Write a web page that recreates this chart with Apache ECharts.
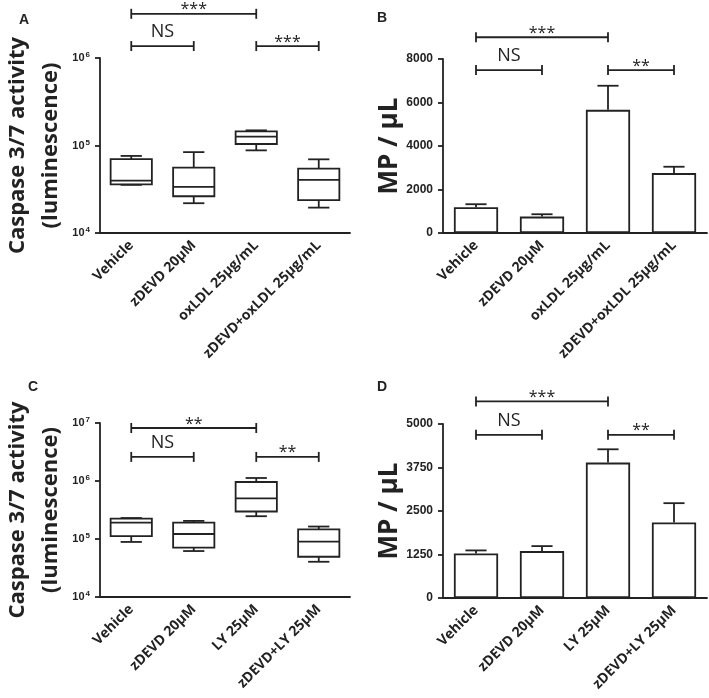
<!DOCTYPE html>
<html>
<head>
<meta charset="utf-8">
<script src="https://cdn.jsdelivr.net/npm/echarts@6/dist/echarts.min.js"></script>
<style>html,body{margin:0;padding:0;background:#fff;}#c{width:709px;height:698px;}</style>
</head>
<body>
<div id="c"></div>
<script>
// ---------- data ----------
const catsTop = ['Vehicle', 'zDEVD 20µM', 'oxLDL 25µg/mL', 'zDEVD+oxLDL 25µg/mL'];
const catsBottom = ['Vehicle', 'zDEVD 20µM', 'LY 25µM', 'zDEVD+LY 25µM'];

// box plots: [min, q1, median, q3, max]
const boxA = [
  [35500, 36000, 39600, 70000, 76000],
  [21900, 26300, 33600, 56000, 84000],
  [88000, 104000, 126000, 145000, 149000],
  [19500, 23800, 40400, 54300, 69500]
];
const boxC = [
  [89000, 112000, 192000, 225000, 230000],
  [62000, 70800, 122000, 192000, 205000],
  [247000, 298000, 500000, 961000, 1127000],
  [40500, 49400, 90000, 147000, 164000]
];

// bar charts: mean and upper error (SEM)
const meanB = [1185, 754, 5662, 2754];
const semB = [138, 108, 1108, 292];
const meanD = [1281, 1348, 3891, 2170];
const semD = [86, 143, 382, 555];

// significance brackets: [fromIndex, toIndex, yValue, label]
const sigA = [[0, 2, 3.2e6, '***'], [0, 1, 1.37e6, 'NS'], [2, 3, 1.37e6, '***']];
const sigB = [[0, 2, 9000, '***'], [0, 1, 7490, 'NS'], [2, 3, 7490, '**']];
const sigC = [[0, 2, 8.2e6, '**'], [0, 1, 2.6e6, 'NS'], [2, 3, 2.6e6, '**']];
const sigD = [[0, 2, 5650, '***'], [0, 1, 4690, 'NS'], [2, 3, 4690, '**']];

const ticksB = {min: 0, max: 8000, interval: 2000};
const ticksD = {min: 0, max: 5000, interval: 1250};

// ---------- styles ----------
const INK = '#222';
const LW = 1.8;
const grids = [
  {left: 87, top: 58, width: 263, height: 175},
  {left: 443, top: 59, width: 264, height: 174},
  {left: 87, top: 423, width: 263, height: 174},
  {left: 443, top: 424, width: 264, height: 174}
];

function bandOf(api, v) {
  return api.coord([1, v])[0] - api.coord([0, v])[0];
}

function boxRender(params, api) {
  const i = api.value(0);
  const mn = api.value(1), q1 = api.value(2), md = api.value(3), q3 = api.value(4), mx = api.value(5);
  const pMin = api.coord([i, mn]), pQ1 = api.coord([i, q1]), pMd = api.coord([i, md]);
  const pQ3 = api.coord([i, q3]), pMax = api.coord([i, mx]);
  const band = bandOf(api, md);
  const cx = pMd[0];
  const hw = band * 0.33, cw = band * 0.17;
  const st = {stroke: INK, lineWidth: LW, fill: null};
  return {type: 'group', children: [
    {type: 'rect', shape: {x: cx - hw, y: pQ3[1], width: 2 * hw, height: pQ1[1] - pQ3[1]}, style: {stroke: INK, lineWidth: LW, fill: '#fff'}},
    {type: 'line', shape: {x1: cx - hw, y1: pMd[1], x2: cx + hw, y2: pMd[1]}, style: st},
    {type: 'line', shape: {x1: cx, y1: pQ3[1], x2: cx, y2: pMax[1]}, style: st},
    {type: 'line', shape: {x1: cx - cw, y1: pMax[1], x2: cx + cw, y2: pMax[1]}, style: st},
    {type: 'line', shape: {x1: cx, y1: pQ1[1], x2: cx, y2: pMin[1]}, style: st},
    {type: 'line', shape: {x1: cx - cw, y1: pMin[1], x2: cx + cw, y2: pMin[1]}, style: st}
  ]};
}

function errRender(params, api) {
  const i = api.value(0);
  const p0 = api.coord([i, api.value(1)]);
  const p1 = api.coord([i, api.value(2)]);
  const band = bandOf(api, api.value(1));
  const cw = band * 0.16;
  const st = {stroke: INK, lineWidth: LW};
  return {type: 'group', children: [
    {type: 'line', shape: {x1: p0[0], y1: p0[1], x2: p1[0], y2: p1[1]}, style: st},
    {type: 'line', shape: {x1: p1[0] - cw, y1: p1[1], x2: p1[0] + cw, y2: p1[1]}, style: st}
  ]};
}

function makeSigRender(sig) {
  return function (params, api) {
    const s = sig[params.dataIndex];
    const a = api.coord([s[0], s[2]]);
    const b = api.coord([s[1], s[2]]);
    const y = a[1];
    const isNS = s[3] === 'NS';
    const st = {stroke: INK, lineWidth: LW};
    return {type: 'group', children: [
      {type: 'line', shape: {x1: a[0], y1: y, x2: b[0], y2: y}, style: st},
      {type: 'line', shape: {x1: a[0], y1: y - 5, x2: a[0], y2: y + 5}, style: st},
      {type: 'line', shape: {x1: b[0], y1: y - 5, x2: b[0], y2: y + 5}, style: st},
      {type: 'text', x: (a[0] + b[0]) / 2, y: isNS ? y - 14 : y - 4,
        style: {text: s[3], fill: INK, align: 'center', verticalAlign: 'middle',
          font: isNS ? '18px "Open Sans"' : '16px "Open Sans"'}}
    ]};
  };
}

function xAxisOf(gi, cats) {
  return {
    type: 'category', gridIndex: gi, data: cats,
    axisLine: {lineStyle: {color: INK, width: LW}},
    axisTick: {alignWithLabel: true, length: 5, lineStyle: {color: INK, width: LW}},
    axisLabel: {interval: 0, rotate: 45, margin: 10, color: INK, fontFamily: 'Open Sans', fontWeight: 'bold', fontSize: 14}
  };
}

const logLabel = {
  color: INK, margin: 10,
  formatter: function (v) {
    const e = Math.round(Math.log10(v));
    return '{b|10}{s|' + e + '}';
  },
  rich: {
    b: {fontFamily: 'Liberation Sans', fontWeight: 'bold', fontSize: 11, color: INK, lineHeight: 14},
    s: {fontFamily: 'Liberation Sans', fontWeight: 'bold', fontSize: 8, color: INK, verticalAlign: 'top', lineHeight: 8, padding: [0, 0, 0, 1]}
  }
};
const linLabel = {color: INK, margin: 10, fontFamily: 'Liberation Sans', fontWeight: 'bold', fontSize: 12,
  formatter: function (v) { return String(v); }};

const casName = {
  name: 'Caspase 3/7 activity\n(luminescence)', nameLocation: 'middle', nameRotate: 90, nameGap: 33,
  nameTextStyle: {fontFamily: 'Open Sans', fontWeight: 'bold', fontSize: 22, lineHeight: 33, color: INK}
};
const mpName = {
  name: 'MP / µL', nameLocation: 'middle', nameRotate: 90, nameGap: 40,
  nameTextStyle: {fontFamily: 'Open Sans', fontWeight: 'bold', fontSize: 26, color: INK}
};

function yLog(gi, max) {
  return Object.assign({
    type: 'log', logBase: 10, gridIndex: gi, min: 1e4, max: max,
    splitLine: {show: false}, minorTick: {show: false},
    axisLine: {show: true, lineStyle: {color: INK, width: LW}},
    axisTick: {show: true, length: 5, lineStyle: {color: INK, width: LW}},
    axisLabel: logLabel
  }, casName);
}
function yLin(gi, t) {
  return Object.assign({
    type: 'value', gridIndex: gi, min: t.min, max: t.max, interval: t.interval,
    splitLine: {show: false},
    axisLine: {show: true, lineStyle: {color: INK, width: LW}},
    axisTick: {show: true, length: 5, lineStyle: {color: INK, width: LW}},
    axisLabel: linLabel
  }, mpName);
}

function boxSeries(gi, box) {
  return {type: 'custom', xAxisIndex: gi, yAxisIndex: gi, renderItem: boxRender, clip: false,
    encode: {x: 0, y: [1, 2, 3, 4, 5]},
    data: box.map((b, i) => [i].concat(b))};
}
function barSeries(gi, mean) {
  return {type: 'bar', xAxisIndex: gi, yAxisIndex: gi, barWidth: '67%',
    itemStyle: {color: '#fff', borderColor: INK, borderWidth: LW},
    data: mean};
}
function errSeries(gi, mean, sem) {
  return {type: 'custom', xAxisIndex: gi, yAxisIndex: gi, renderItem: errRender, clip: false, z: 3,
    encode: {x: 0, y: [1, 2]},
    data: mean.map((m, i) => [i, m, m + sem[i]])};
}
function sigSeries(gi, sig) {
  return {type: 'custom', xAxisIndex: gi, yAxisIndex: gi, renderItem: makeSigRender(sig), clip: false,
    encode: {x: 0, y: 2},
    data: sig.map(s => [s[0], s[1], s[2]])};
}

const panelTitle = (t, l, tp) => ({text: t, left: l, top: tp, padding: 0,
  textStyle: {fontFamily: 'Liberation Sans', fontWeight: 'bold', fontSize: 14, color: INK}});

const chart = echarts.init(document.getElementById('c'), null, {renderer: 'canvas'});
chart.setOption({
  animation: false,
  backgroundColor: '#fff',
  title: [panelTitle('A', 19, 13), panelTitle('B', 377, 11), panelTitle('C', 28, 380), panelTitle('D', 377, 380)],
  grid: grids,
  xAxis: [xAxisOf(0, catsTop), xAxisOf(1, catsTop), xAxisOf(2, catsBottom), xAxisOf(3, catsBottom)],
  yAxis: [yLog(0, 1e6), yLin(1, ticksB), yLog(2, 1e7), yLin(3, ticksD)],
  series: [
    boxSeries(0, boxA), sigSeries(0, sigA),
    barSeries(1, meanB), errSeries(1, meanB, semB), sigSeries(1, sigB),
    boxSeries(2, boxC), sigSeries(2, sigC),
    barSeries(3, meanD), errSeries(3, meanD, semD), sigSeries(3, sigD)
  ]
});
</script>
</body>
</html>
